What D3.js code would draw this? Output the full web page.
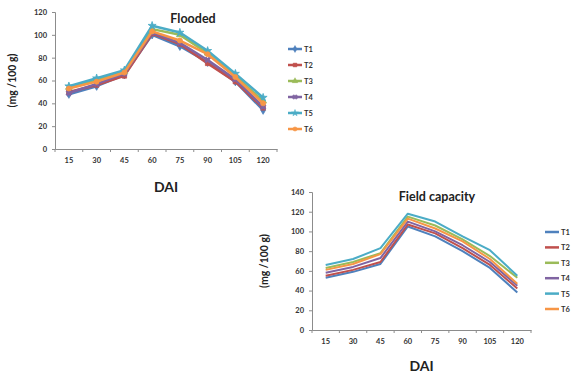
<!DOCTYPE html>
<html><head><meta charset="utf-8">
<script src="https://cdn.jsdelivr.net/npm/d3@7"></script>
<style>
body{margin:0;background:#fff;}
svg{display:block;font-family:Lato,"Noto Sans",sans-serif;}
</style></head>
<body>
<script>
const categories = ["15","30","45","60","75","90","105","120"];
const seriesNames = ["T1","T2","T3","T4","T5","T6"];
const colors = ["#4F81BD","#C0504D","#9BBB59","#8064A2","#4BACC6","#F79646"];

const floodedT1 = [48,55,65,100,90,76,59,34];
const floodedT2 = [50,56,64,101,92,75,59,36];
const floodedT3 = [54,60,68,105,100,84,64,42];
const floodedT4 = [49,57,66,102,93,78,61,37];
const floodedT5 = [55,62,69,108,102,86,66,45];
const floodedT6 = [53,59,67,103,95,83,63,40];
const floodedTicks = [0,20,40,60,80,100,120];

const fieldT1 = [53,59,67,105,95,80,63,38];
const fieldT2 = [55,61,69,107,98,83,66,42];
const fieldT3 = [63,69,78,115,106,92,75,53];
const fieldT4 = [58,64,73,110,100,86,69,45];
const fieldT5 = [66,72,83,118,110,95,81,55];
const fieldT6 = [61,67,77,113,103,90,72,47];
const fieldTicks = [0,20,40,60,80,100,120,140];

const W = 581, H = 374;
const svg = d3.select("body").append("svg").attr("width", W).attr("height", H);

function drawChart(opt){
  const g = svg.append("g");
  const x = d3.scaleBand().domain(categories).range([opt.x0, opt.x1]);
  const y = d3.scaleLinear().domain([0, opt.ymax]).range([opt.y0, opt.y1]);

  const ya = d3.axisLeft(y).tickValues(opt.ticks).tickSize(3).tickPadding(5);
  const yg = g.append("g").attr("transform", `translate(${opt.x0},0)`).call(ya);
  const xa = d3.axisBottom(x).tickSize(0).tickPadding(9);
  const xg = g.append("g").attr("transform", `translate(0,${opt.y0})`).call(xa);
  const bounds = categories.map(c => x(c)).concat([opt.x1]);
  xg.selectAll("line.bt").data(bounds).enter().append("line").attr("class","bt")
    .attr("x1", d => d).attr("x2", d => d).attr("y1", 0).attr("y2", 3);
  [yg, xg].forEach(a => {
    a.selectAll("path.domain").attr("stroke", "#8c8c8c").attr("stroke-width", 1);
    a.selectAll("line").attr("stroke", "#8c8c8c");
    a.selectAll("text").attr("fill", "#333").style("font-size", "7.5px").style("font-weight", "bold")
      .style("font-family", "Lato,'Noto Sans',sans-serif");
  });

  const line = d3.line().x((d,i) => x(categories[i]) + x.bandwidth()/2).y(d => y(d));
  opt.data.forEach((vals, si) => {
    g.append("path").datum(vals).attr("d", line).attr("fill","none")
      .attr("stroke", colors[si]).attr("stroke-width", opt.lw).attr("stroke-linejoin","round");
    if (opt.markers) {
      const sym = opt.markers[si];
      g.selectAll(null).data(vals).enter().append("path")
        .attr("transform", (d,i) => `translate(${x(categories[i]) + x.bandwidth()/2},${y(d)})` + (sym === d3.symbolCross ? " rotate(45)" : ""))
        .attr("d", d3.symbol().type(sym).size(opt.msize))
        .attr("fill", colors[si]).attr("stroke", colors[si]).attr("stroke-width", 0.8);
    }
  });

  g.append("text").attr("x", opt.titleX).attr("y", opt.titleY).attr("text-anchor","middle")
    .style("font-size", "12.5px").style("font-weight","bold").attr("fill","#222").text(opt.title);
  g.append("text").attr("x", (opt.x0+opt.x1)/2).attr("y", opt.xlabY).attr("text-anchor","middle")
    .style("font-size","14px").style("font-weight","bold").attr("fill","#222").text("DAI");
  g.append("text").attr("transform", `translate(${opt.ylabX},${(opt.y0+opt.y1)/2}) rotate(-90)`)
    .attr("text-anchor","middle").style("font-size","10.5px").style("font-weight","bold").attr("fill","#222")
    .text("(mg /100 g)");

  seriesNames.forEach((n, i) => {
    const ly = opt.legY + i*opt.legStep;
    g.append("line").attr("x1", opt.legX).attr("x2", opt.legX + 14).attr("y1", ly).attr("y2", ly)
      .attr("stroke", colors[i]).attr("stroke-width", 2.5);
    if (opt.markers) {
      g.append("path").attr("transform", `translate(${opt.legX+7},${ly})` + (opt.markers[i] === d3.symbolCross ? " rotate(45)" : ""))
        .attr("d", d3.symbol().type(opt.markers[i]).size(opt.msize*0.7))
        .attr("fill", colors[i]).attr("stroke", colors[i]).attr("stroke-width", 0.5);
    }
    g.append("text").attr("x", opt.legX + 16).attr("y", ly + 3)
      .style("font-size","7.5px").style("font-weight","bold").attr("fill","#333").text(n);
  });
}

drawChart({
  x0: 55, x1: 277, y0: 149, y1: 12, ymax: 120, ticks: floodedTicks,
  data: [floodedT1, floodedT2, floodedT3, floodedT4, floodedT5, floodedT6],
  lw: 2.5, markers: [d3.symbolDiamond, d3.symbolSquare, d3.symbolTriangle, d3.symbolCross, d3.symbolStar, d3.symbolCircle], msize: 20,
  title: "Flooded", titleX: 193, titleY: 23, xlabY: 192, ylabX: 16,
  legX: 288, legY: 49, legStep: 16
});

drawChart({
  x0: 312, x1: 531, y0: 330, y1: 192, ymax: 140, ticks: fieldTicks,
  data: [fieldT1, fieldT2, fieldT3, fieldT4, fieldT5, fieldT6],
  lw: 2, markers: null, msize: 0,
  title: "Field capacity", titleX: 437, titleY: 201, xlabY: 371, ylabX: 268,
  legX: 545, legY: 232, legStep: 15.4
});
</script>
</body></html>
